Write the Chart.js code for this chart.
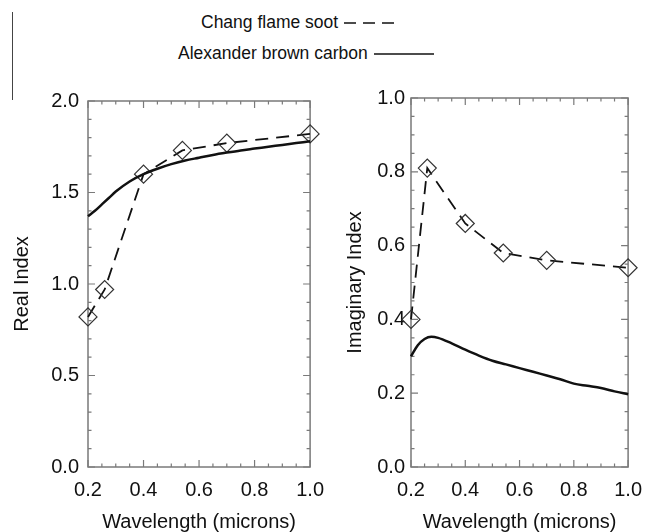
<!DOCTYPE html>
<html>
<head>
<meta charset="utf-8">
<script src="https://cdn.jsdelivr.net/npm/chart.js@4.4.1/dist/chart.umd.min.js"></script>
<style>
  body { margin: 0; background: #fff; width: 653px; height: 532px; position: relative; overflow: hidden; font-family: 'Liberation Sans', Arial, sans-serif; }
  canvas { position: absolute; top: 80px; }
  #left { left: 0; }
  #right { left: 325px; }
  .legend { position: absolute; font-size: 17.5px; color: #111; white-space: nowrap; line-height: 20px; }
  .legend svg { vertical-align: middle; margin-left: 6px; }
  #edge { position: absolute; left: 12px; top: 12px; width: 1px; height: 88px; background: #444; }
</style>
</head>
<body>
<div id="edge"></div>
<div class="legend" style="left:201px; top:12px;">Chang flame soot<svg width="54" height="6"><line x1="0" y1="3" x2="54" y2="3" stroke="#111" stroke-width="1.5" stroke-dasharray="12 7"/></svg></div>
<div class="legend" style="left:178px; top:43px;">Alexander brown carbon<svg width="60" height="6"><line x1="0" y1="3" x2="60" y2="3" stroke="#111" stroke-width="1.5"/></svg></div>
<canvas id="left" width="335" height="452"></canvas>
<canvas id="right" width="328" height="452"></canvas>
<script>
// === DATA ===
const changWave = [0.2, 0.26, 0.4, 0.54, 0.7, 1.0];
const changReal = [0.82, 0.97, 1.60, 1.73, 1.77, 1.82];
const changImag = [0.40, 0.81, 0.66, 0.58, 0.56, 0.54];

const brownWave = [0.2, 0.225, 0.25, 0.275, 0.3, 0.35, 0.4, 0.45, 0.5, 0.55, 0.6, 0.65, 0.7, 0.75, 0.8, 0.85, 0.9, 0.95, 1.0];
const brownReal = [1.37, 1.40, 1.435, 1.47, 1.505, 1.56, 1.60, 1.63, 1.655, 1.675, 1.69, 1.705, 1.718, 1.73, 1.74, 1.75, 1.76, 1.77, 1.78];
const brownImag = [0.30, 0.33, 0.347, 0.353, 0.350, 0.335, 0.318, 0.302, 0.288, 0.278, 0.268, 0.258, 0.248, 0.238, 0.226, 0.220, 0.214, 0.205, 0.197];

const xMajor = [0.2, 0.4, 0.6, 0.8, 1.0];
const realMajor = [0.0, 0.5, 1.0, 1.5, 2.0];
const imagMajor = [0.0, 0.2, 0.4, 0.6, 0.8, 1.0];

const FONT = "'Liberation Sans', Arial, Helvetica, sans-serif";
const AXIS = '#7a7a7a';

const pts = (xs, ys) => xs.map((x, i) => ({ x, y: ys[i] }));
const majorLabel = majors => v => majors.some(m => Math.abs(m - v) < 1e-6) ? v.toFixed(1) : '';

// === INWARD TICKS + FRAME ===
const frameTicks = {
    id: 'frameTicks',
    beforeDatasetsDraw(chart) {
        const { ctx, chartArea: a, scales: { x, y } } = chart;
        ctx.save();
        ctx.strokeStyle = AXIS;
        ctx.lineWidth = 1.5;
        ctx.strokeRect(a.left, a.top, a.right - a.left, a.bottom - a.top);
        ctx.lineWidth = 1.2;
        ctx.beginPath();
        x.ticks.forEach(t => {
            const px = x.getPixelForValue(t.value);
            const len = t.label ? 7 : 3.5;
            ctx.moveTo(px, a.bottom); ctx.lineTo(px, a.bottom - len);
            ctx.moveTo(px, a.top); ctx.lineTo(px, a.top + len);
        });
        y.ticks.forEach(t => {
            const py = y.getPixelForValue(t.value);
            const len = t.label ? 7 : 3.5;
            ctx.moveTo(a.left, py); ctx.lineTo(a.left + len, py);
            ctx.moveTo(a.right, py); ctx.lineTo(a.right - len, py);
        });
        ctx.stroke();
        ctx.restore();
    }
};

function makePanel(id, brownY, changY, yMax, yStep, yMajor, yTitle, yWidth, yTitlePad, yTickPad, padRight) {
    return new Chart(document.getElementById(id), {
        type: 'line',
        data: {
            datasets: [
                {
                    data: pts(brownWave, brownY),
                    borderColor: '#111', borderWidth: 2.5, pointRadius: 0,
                    cubicInterpolationMode: 'monotone', clip: false
                },
                {
                    data: pts(changWave, changY),
                    borderColor: '#111', borderWidth: 1.8, borderDash: [13, 8], tension: 0,
                    pointStyle: 'rectRot', pointRadius: 9, pointBorderWidth: 1.2,
                    pointBorderColor: '#333', pointBackgroundColor: 'rgba(0,0,0,0)', clip: false
                }
            ]
        },
        options: {
            responsive: false, animation: false, devicePixelRatio: 1,
            layout: { autoPadding: false, padding: { top: 16, right: padRight, left: 0, bottom: 0 } },
            plugins: { legend: { display: false }, tooltip: { enabled: false } },
            scales: {
                x: {
                    type: 'linear', min: 0.2, max: 1.0,
                    grid: { display: false, drawTicks: false },
                    border: { display: false },
                    ticks: { stepSize: 0.05, autoSkip: false, maxRotation: 0, padding: 11, color: '#111',
                        font: { family: FONT, size: 20 }, callback: majorLabel(xMajor) },
                    title: { display: true, text: 'Wavelength (microns)', color: '#111',
                        font: { family: FONT, size: 20 }, padding: { top: 0, bottom: -2 } },
                    afterFit: s => { s.height = 65; }
                },
                y: {
                    type: 'linear', min: 0, max: yMax,
                    grid: { display: false, drawTicks: false },
                    border: { display: false },
                    ticks: { stepSize: yStep, autoSkip: false, padding: yTickPad, color: '#111',
                        font: { family: FONT, size: 20 }, callback: majorLabel(yMajor) },
                    title: { display: true, text: yTitle, color: '#111',
                        font: { family: FONT, size: 20 }, padding: { top: yTitlePad, bottom: 0 } },
                    afterFit: s => { s.width = yWidth; }
                }
            }
        },
        plugins: [frameTicks]
    });
}

makePanel('left', brownReal, changReal, 2.0, 0.1, realMajor, 'Real Index', 88, 10, 9, 23);
makePanel('right', brownImag, changImag, 1.0, 0.05, imagMajor, 'Imaginary Index', 86, 18, 6, 16);
</script>
</body>
</html>
